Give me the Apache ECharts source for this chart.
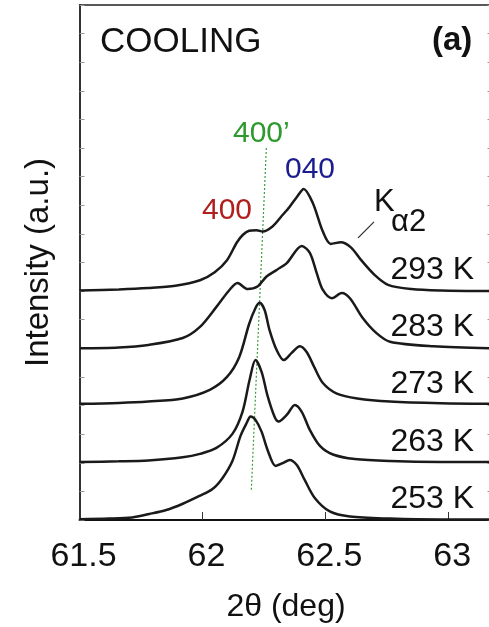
<!DOCTYPE html>
<html>
<head>
<meta charset="utf-8">
<script src="https://cdn.jsdelivr.net/npm/echarts@6/dist/echarts.min.js"></script>
<style>
html,body{margin:0;padding:0;background:#fff;}
#c{width:489px;height:627px;}
</style>
</head>
<body>
<div id="c"></div>
<script>
// ---- data (2theta in deg, intensity in a.u. with vertical offsets) ----
const xTickLabels = ['61.5', '62', '62.5', '63'];
const tempLabels = ['293 K', '283 K', '273 K', '263 K', '253 K'];

const s293 = [[61.5,8.02],[61.66,8.06],[61.78,8.11],[61.89,8.19],[61.99,8.38],[62.05,8.66],[62.10,9.08],[62.14,9.70],[62.165,9.97],[62.19,10.11],[62.22,10.13],[62.245,10.08],[62.285,10.26],[62.32,10.6],[62.355,10.95],[62.385,11.3],[62.412,11.57],[62.449,11.08],[62.49,10.08],[62.522,9.65],[62.563,9.71],[62.604,9.53],[62.645,9.09],[62.70,8.57],[62.755,8.22],[62.85,8.07],[62.97,8.02],[63.18,8.0]];
const s283 = [[61.5,6.0],[61.66,6.03],[61.78,6.12],[61.92,6.36],[61.99,6.75],[62.057,7.45],[62.11,8.04],[62.143,8.28],[62.184,8.07],[62.224,8.16],[62.261,8.51],[62.302,8.74],[62.343,8.98],[62.404,9.58],[62.437,9.34],[62.465,8.63],[62.49,8.04],[62.527,7.75],[62.567,7.93],[62.60,7.75],[62.653,7.05],[62.708,6.53],[62.763,6.23],[62.94,6.07],[63.18,6.0]];
const s273 = [[61.5,4.06],[61.66,4.09],[61.78,4.14],[61.92,4.25],[62.03,4.55],[62.10,5.0],[62.15,5.70],[62.19,6.85],[62.216,7.41],[62.233,7.59],[62.253,7.34],[62.273,6.64],[62.302,5.94],[62.331,5.59],[62.363,5.84],[62.396,6.07],[62.424,5.87],[62.453,5.38],[62.49,4.79],[62.547,4.42],[62.63,4.25],[62.763,4.14],[62.97,4.08],[63.18,4.06]];
const s263 = [[61.5,2.03],[61.66,2.05],[61.78,2.08],[61.92,2.19],[61.99,2.31],[62.057,2.52],[62.122,3.01],[62.163,3.78],[62.192,4.90],[62.216,5.59],[62.241,5.17],[62.265,4.34],[62.294,3.60],[62.31,3.44],[62.343,3.67],[62.376,4.02],[62.404,3.78],[62.437,3.15],[62.478,2.59],[62.531,2.29],[62.62,2.13],[62.763,2.06],[62.97,2.03],[63.18,2.03]];
const s253 = [[61.5,0.03],[61.62,0.05],[61.714,0.09],[61.784,0.21],[61.853,0.35],[61.918,0.56],[61.988,0.84],[62.041,1.08],[62.082,1.47],[62.122,2.06],[62.155,2.94],[62.18,3.39],[62.196,3.62],[62.216,3.50],[62.241,3.08],[62.265,2.45],[62.298,1.89],[62.327,1.99],[62.355,2.10],[62.384,1.92],[62.416,1.40],[62.457,0.77],[62.518,0.30],[62.60,0.12],[62.763,0.05],[62.97,0.02],[63.18,0.02]];

const line400p = [[62.260,13.0],[62.199,1.05]];
const leaderKa2 = [[62.633,9.86],[62.698,10.42]];

const X_MIN = 61.5, X_MAX = 63.18, X_INT = 0.5;
const Y_MIN = 0, Y_MAX = 18, Y_INT = 1;

// ---- chart ----
const chart = echarts.init(document.getElementById('c'), null, {renderer: 'canvas'});
const FONT = 'Liberation Sans, Arial, Helvetica, sans-serif';
const curves = [s293, s283, s273, s263, s253];

const series = curves.map((d, i) => ({
  name: tempLabels[i], type: 'line', data: d, smooth: 0.3, symbol: 'none',
  lineStyle: {color: '#1a1a1a', width: 2.5}, xAxisIndex: 0, yAxisIndex: 0, z: 3
}));
series.push({type: 'line', data: line400p, symbol: 'none',
  lineStyle: {color: '#3a9d3a', width: 1.2, type: [2, 2]}, z: 2});
series.push({type: 'line', data: leaderKa2, symbol: 'none',
  lineStyle: {color: '#333', width: 1.3}, z: 2});

const labelTop = [270, 327, 384, 442, 499];
const graphics = [
  {type: 'text', left: 100, top: 25, style: {text: 'COOLING', font: '35px ' + FONT, fill: '#111'}},
  {type: 'text', left: 432, top: 24, style: {text: '(a)', font: 'bold 33px ' + FONT, fill: '#111'}},
  {type: 'text', left: 233, top: 119, style: {text: "400\u2019", font: '30px ' + FONT, fill: '#2e9a2e'}},
  {type: 'text', left: 285, top: 155, style: {text: '040', font: '30px ' + FONT, fill: '#1c1c90'}},
  {type: 'text', left: 202, top: 196, style: {text: '400', font: '30px ' + FONT, fill: '#b01e1e'}},
  {type: 'text', left: 374, top: 187, style: {text: 'K', font: '31px ' + FONT, fill: '#111'}},
  {type: 'text', left: 391, top: 207, style: {text: '\u03b12', font: '31px ' + FONT, fill: '#111'}}
];
tempLabels.forEach((t, i) => {
  graphics.push({type: 'text', right: 15, top: labelTop[i] - 16,
    style: {text: t, font: '32px ' + FONT, fill: '#111'}});
});

chart.setOption({
  animation: false,
  backgroundColor: '#fff',
  grid: {left: 79.5, top: 5, height: 515, width: 413, containLabel: false, outerBoundsMode: 'none'},
  xAxis: [{
    type: 'value', min: X_MIN, max: X_MAX, interval: X_INT, position: 'bottom',
    name: '2\u03b8 (deg)', nameLocation: 'middle', nameGap: 71,
    nameTextStyle: {fontSize: 32, fontFamily: FONT, color: '#111'},
    axisLine: {show: true, onZero: false, lineStyle: {color: '#111', width: 2}},
    axisTick: {show: true, inside: true, length: 8, lineStyle: {color: '#333', width: 1}},
    axisLabel: {show: true, margin: 20, fontSize: 34, fontFamily: FONT, color: '#111', showMaxLabel: false,
      padding: [0, 0, 0, 8],
      formatter: v => { const s = String(+v.toFixed(2)); return xTickLabels.indexOf(s) >= 0 ? s : ''; }},
    splitLine: {show: false}
  }, {
    type: 'value', min: X_MIN, max: X_MAX, interval: X_INT, position: 'top',
    axisLine: {show: true, onZero: false, lineStyle: {color: '#222', width: 1.5}},
    axisTick: {show: false}, axisLabel: {show: false}, splitLine: {show: false}
  }],
  yAxis: [{
    type: 'value', min: Y_MIN, max: Y_MAX, interval: Y_INT, position: 'left',
    name: 'Intensity (a.u.)', nameLocation: 'middle', nameGap: 24, nameRotate: 90,
    nameTextStyle: {fontSize: 33, fontFamily: FONT, color: '#111'},
    axisLine: {show: true, onZero: false, lineStyle: {color: '#333', width: 2}},
    axisTick: {show: true, inside: true, length: 5, lineStyle: {color: '#999', width: 1}},
    axisLabel: {show: false}, splitLine: {show: false}
  }, {
    type: 'value', min: Y_MIN, max: Y_MAX, interval: Y_INT, position: 'right',
    axisLine: {show: false},
    axisTick: {show: true, inside: true, length: 5, lineStyle: {color: '#999', width: 1}},
    axisLabel: {show: false}, splitLine: {show: false}
  }],
  series: series,
  graphic: graphics
});
</script>
</body>
</html>
